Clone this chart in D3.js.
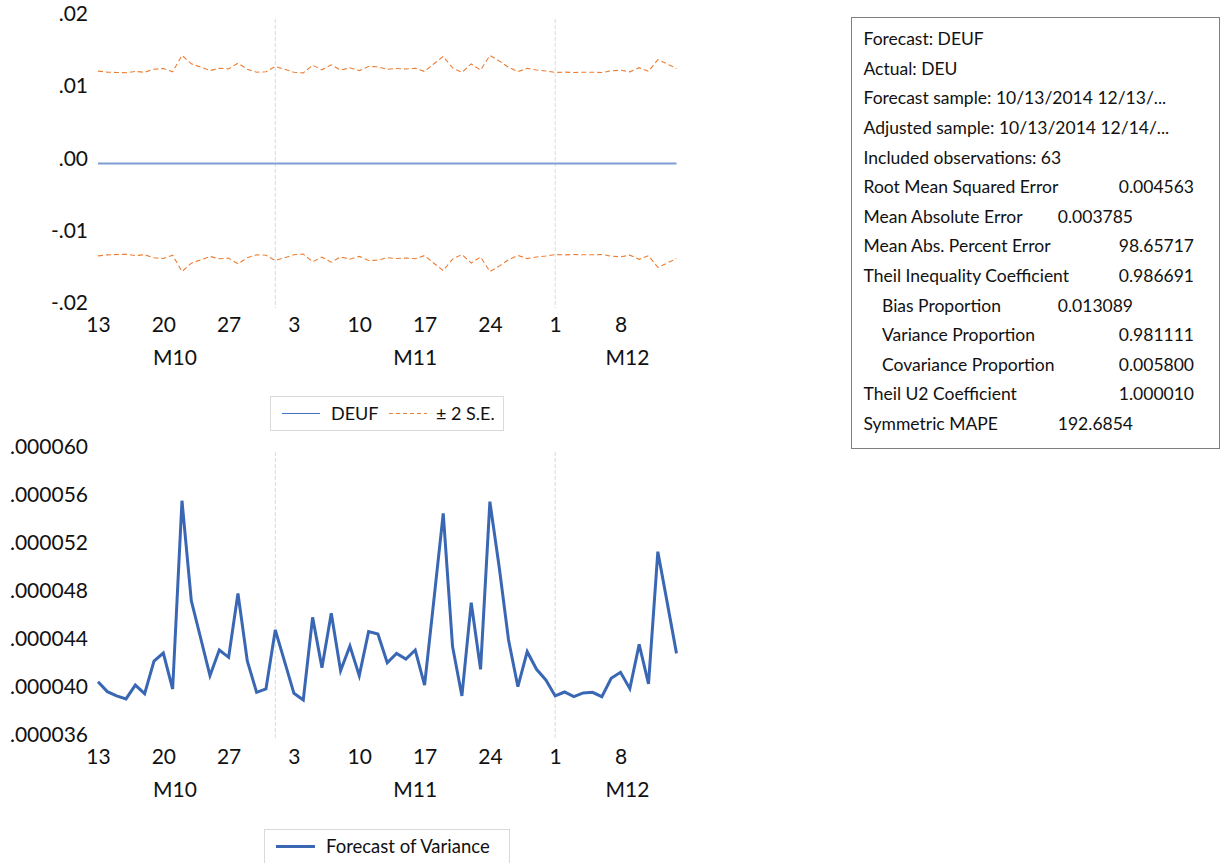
<!DOCTYPE html>
<html>
<head>
<meta charset="utf-8">
<script src="https://cdn.jsdelivr.net/npm/d3@7"></script>
<style>
  body { margin: 0; background: #fff; }
  svg text { font-family: Lato, "Open Sans", sans-serif; fill: #111; }
</style>
</head>
<body>
<svg id="chart" width="1220" height="863"></svg>
<script>
// daily observations 10/13/2014 .. 12/14/2014 (63 obs)
const dayTicks = [0, 7, 14, 21, 28, 35, 42, 49, 56];
const dayLabels = ["13", "20", "27", "3", "10", "17", "24", "1", "8"];
const monthNames = ["M10", "M11", "M12"];
const monthBounds = [-2.5, 19, 49, 64.5];   // first day of each month, as obs index
const monthLines = [19, 49];

// forecast DEUF (close to zero)
const deuf = [
  -0.00001, -0.00001, -0.00001, -0.00001, 0.00000, -0.00001, 0.00000, 0.00000, -0.00001, 0.00000,
  -0.00001, -0.00001, 0.00000, 0.00000, -0.00001, 0.00000, -0.00001, -0.00001, 0.00000, 0.00000,
  -0.00001, -0.00001, 0.00000, 0.00000, -0.00001, 0.00000, 0.00000, -0.00001, 0.00000, 0.00000,
  0.00000, -0.00001, 0.00000, 0.00000, 0.00000, -0.00001, 0.00000, 0.00001, 0.00000, -0.00001,
  0.00000, 0.00000, 0.00001, 0.00000, -0.00001, -0.00001, 0.00000, -0.00001, -0.00001, -0.00001,
  0.00000, -0.00001, -0.00001, 0.00000, -0.00001, 0.00000, 0.00000, -0.00001, 0.00000, -0.00001,
  0.00000, -0.00001, -0.00001
];

// +2 S.E. band
const seUpper = [
  0.01278, 0.01265, 0.01260, 0.01256, 0.01274, 0.01263, 0.01305, 0.01315, 0.01269, 0.01496,
  0.01380, 0.01334, 0.01286, 0.01319, 0.01310, 0.01389, 0.01305, 0.01264, 0.01269, 0.01344,
  0.01304, 0.01263, 0.01254, 0.01360, 0.01297, 0.01365, 0.01293, 0.01324, 0.01286, 0.01342,
  0.01339, 0.01303, 0.01315, 0.01308, 0.01319, 0.01274, 0.01381, 0.01482, 0.01323, 0.01260,
  0.01378, 0.01294, 0.01495, 0.01420, 0.01332, 0.01272, 0.01317, 0.01294, 0.01281, 0.01260,
  0.01265, 0.01259, 0.01264, 0.01264, 0.01259, 0.01283, 0.01291, 0.01269, 0.01326, 0.01276,
  0.01438, 0.01378, 0.01315
];

// -2 S.E. band
const seLower = [
  -0.01278, -0.01265, -0.01260, -0.01256, -0.01274, -0.01263, -0.01305, -0.01315, -0.01269, -0.01496,
  -0.01380, -0.01334, -0.01286, -0.01319, -0.01310, -0.01389, -0.01305, -0.01264, -0.01269, -0.01344,
  -0.01304, -0.01263, -0.01254, -0.01360, -0.01297, -0.01365, -0.01293, -0.01324, -0.01286, -0.01342,
  -0.01339, -0.01303, -0.01315, -0.01308, -0.01319, -0.01274, -0.01381, -0.01482, -0.01323, -0.01260,
  -0.01378, -0.01294, -0.01495, -0.01420, -0.01332, -0.01272, -0.01317, -0.01294, -0.01281, -0.01260,
  -0.01265, -0.01259, -0.01264, -0.01264, -0.01259, -0.01283, -0.01291, -0.01269, -0.01326, -0.01276,
  -0.01438, -0.01378, -0.01315
];

// forecast of variance
const variance = [
  0.00004086, 0.00004003, 0.00003967, 0.00003942, 0.00004058, 0.00003986, 0.00004258, 0.00004325, 0.00004025, 0.00005594,
  0.00004761, 0.00004450, 0.00004136, 0.00004350, 0.00004289, 0.00004822, 0.00004258, 0.00003997, 0.00004025, 0.00004517,
  0.00004253, 0.00003989, 0.00003933, 0.00004622, 0.00004203, 0.00004656, 0.00004178, 0.00004383, 0.00004136, 0.00004503,
  0.00004483, 0.00004244, 0.00004322, 0.00004275, 0.00004350, 0.00004058, 0.00004767, 0.00005489, 0.00004378, 0.00003967,
  0.00004744, 0.00004189, 0.00005586, 0.00005039, 0.00004433, 0.00004044, 0.00004336, 0.00004189, 0.00004100, 0.00003967,
  0.00004000, 0.00003961, 0.00003992, 0.00003997, 0.00003961, 0.00004114, 0.00004164, 0.00004028, 0.00004397, 0.00004067,
  0.00005169, 0.00004747, 0.00004322
];

const topTicks = [-0.02, -0.01, 0, 0.01, 0.02];
const topTickLabels = ["-.02", "-.01", ".00", ".01", ".02"];
const varTicks = [0.000036, 0.000040, 0.000044, 0.000048, 0.000052, 0.000056, 0.000060];
const varTickLabels = [".000036", ".000040", ".000044", ".000048", ".000052", ".000056", ".000060"];

const statLabels = [
  "Forecast: DEUF", "Actual: DEU", "Forecast sample: 10/13/2014 12/13/...",
  "Adjusted sample: 10/13/2014 12/14/...", "Included observations: 63",
  "Root Mean Squared Error", "Mean Absolute Error", "Mean Abs. Percent Error",
  "Theil Inequality Coefficient", "Bias Proportion", "Variance Proportion",
  "Covariance Proportion", "Theil U2 Coefficient", "Symmetric MAPE"
];
const statValues = ["", "", "", "", "", "0.004563", "0.003785", "98.65717",
  "0.986691", "0.013089", "0.981111", "0.005800", "1.000010", "192.6854"];
const statIndent = [0, 0, 0, 0, 0, 0, 0, 0, 0, 1, 1, 1, 0, 0];
const statShortCol = [0, 0, 0, 0, 0, 0, 1, 0, 0, 1, 0, 0, 0, 1];

const svg = d3.select("#chart");
const idx = d3.range(variance.length);

const x = d3.scaleLinear().domain([0, 62]).range([98, 676.5]);

function drawPanel(g, y, top, bottom, ticks, tickLabels) {
    // month separators
    g.selectAll(".mline").data(monthLines).enter().append("line")
        .attr("x1", d => x(d)).attr("x2", d => x(d))
        .attr("y1", top).attr("y2", bottom)
        .attr("stroke", "#d9d9d9").attr("stroke-width", 1)
        .attr("stroke-dasharray", "4 2");

    const ya = g.append("g").attr("transform", "translate(98,0)")
        .call(d3.axisLeft(y).tickValues(ticks)
            .tickFormat((d, i) => tickLabels[i]).tickSize(0).tickPadding(10));
    ya.select(".domain").remove();
    ya.selectAll("text").attr("y", -5).style("font-size", "21px")
        .style("font-family", "Lato, sans-serif").attr("fill", "#111");

    const xa = g.append("g").attr("transform", `translate(0,${bottom})`)
        .call(d3.axisBottom(x).tickValues(dayTicks)
            .tickFormat((d, i) => dayLabels[i]).tickSize(0).tickPadding(9));
    xa.select(".domain").remove();
    xa.selectAll("text").style("font-size", "21px")
        .style("font-family", "Lato, sans-serif").attr("fill", "#111");

    g.selectAll(".month").data(monthNames).enter().append("text")
        .attr("x", (d, i) => (x(monthBounds[i]) + x(monthBounds[i + 1])) / 2)
        .attr("y", bottom + 57)
        .attr("text-anchor", "middle")
        .style("font-size", "21px")
        .text(d => d);
}

// top panel: DEUF with +/- 2 S.E.
const yTop = d3.scaleLinear().domain([-0.02, 0.02]).range([308, 19]);
const gTop = svg.append("g");
drawPanel(gTop, yTop, 19, 308, topTicks, topTickLabels);

const lineTop = vals => d3.line().x(i => x(i)).y(i => yTop(vals[i]))(idx);
gTop.append("path").attr("d", lineTop(seUpper)).attr("fill", "none")
    .attr("stroke", "#ed7d31").attr("stroke-width", 1.1).attr("stroke-dasharray", "5 3");
gTop.append("path").attr("d", lineTop(seLower)).attr("fill", "none")
    .attr("stroke", "#ed7d31").attr("stroke-width", 1.1).attr("stroke-dasharray", "5 3");
gTop.append("path").attr("d", lineTop(deuf)).attr("fill", "none")
    .attr("stroke", "#7c9dd4").attr("stroke-width", 2);

// top legend
const lg1 = svg.append("g");
lg1.append("rect").attr("x", 270.5).attr("y", 396.5).attr("width", 233).attr("height", 34)
    .attr("fill", "#fff").attr("stroke", "#d9d9d9");
lg1.append("line").attr("x1", 282).attr("x2", 320).attr("y1", 413.5).attr("y2", 413.5)
    .attr("stroke", "#4472c4").attr("stroke-width", 1);
lg1.append("text").attr("x", 331).attr("y", 420).style("font-size", "18px").text("DEUF");
lg1.append("line").attr("x1", 389).attr("x2", 427).attr("y1", 413.5).attr("y2", 413.5)
    .attr("stroke", "#ed7d31").attr("stroke-width", 1).attr("stroke-dasharray", "4 3");
lg1.append("text").attr("x", 436).attr("y", 420).style("font-size", "18px").text("± 2 S.E.");

// bottom panel: forecast of variance
const yVar = d3.scaleLinear().domain([0.000036, 0.000060]).range([740, 452]);
const gBot = svg.append("g");
drawPanel(gBot, yVar, 452, 740, varTicks, varTickLabels);
gBot.append("path")
    .attr("d", d3.line().x(i => x(i)).y(i => yVar(variance[i]))(idx))
    .attr("fill", "none").attr("stroke", "#3a67b4").attr("stroke-width", 3)
    .attr("stroke-linejoin", "miter");

// bottom legend
const lg2 = svg.append("g");
lg2.append("rect").attr("x", 264.5).attr("y", 829.5).attr("width", 245).attr("height", 40)
    .attr("fill", "#fff").attr("stroke", "#d9d9d9");
lg2.append("line").attr("x1", 276).attr("x2", 315).attr("y1", 846.5).attr("y2", 846.5)
    .attr("stroke", "#3a67b4").attr("stroke-width", 3);
lg2.append("text").attr("x", 326).attr("y", 853).style("font-size", "18.5px").text("Forecast of Variance");

// statistics box
const sb = svg.append("g");
sb.append("rect").attr("x", 851.5).attr("y", 17.5).attr("width", 368).attr("height", 431)
    .attr("fill", "#fff").attr("stroke", "#7f7f7f");
statLabels.forEach((lab, i) => {
    const cy = 39 + i * 29.6;
    sb.append("text").attr("x", statIndent[i] ? 882 : 863.5).attr("y", cy)
        .attr("dy", "0.35em").style("font-size", "17.5px").text(lab);
    if (statValues[i]) {
        sb.append("text").attr("x", statShortCol[i] ? 1133 : 1194).attr("y", cy)
            .attr("dy", "0.35em").attr("text-anchor", "end")
            .style("font-size", "17.5px").text(statValues[i]);
    }
});
</script>
</body>
</html>
